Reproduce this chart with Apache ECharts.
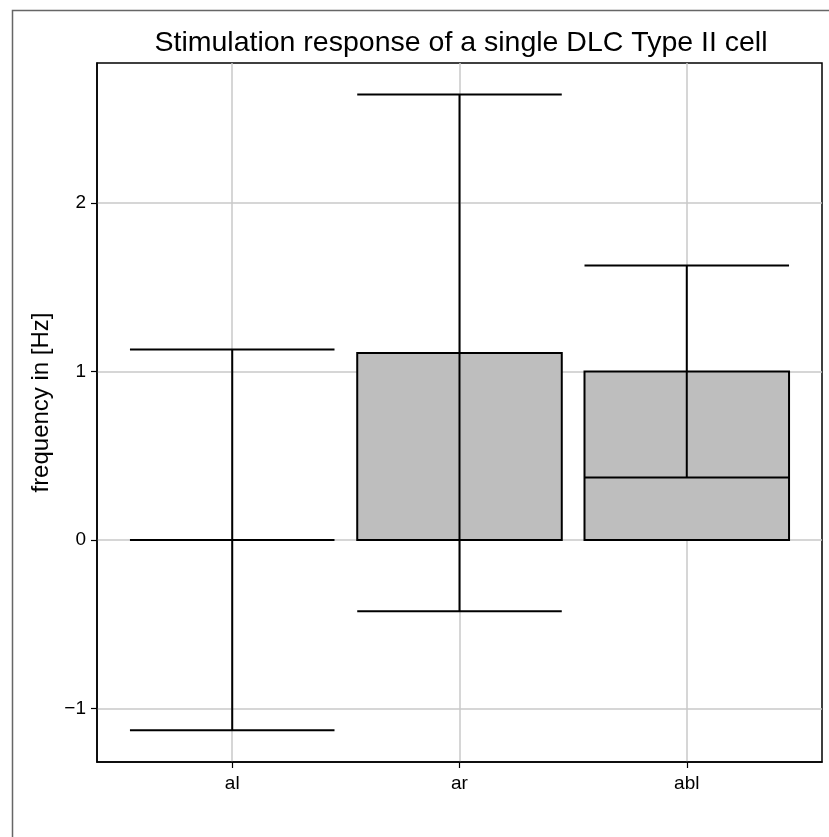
<!DOCTYPE html>
<html>
<head>
<meta charset="utf-8">
<script src="https://cdn.jsdelivr.net/npm/echarts@6/dist/echarts.min.js"></script>
<style>
html,body{margin:0;padding:0;background:#fff;}
#chart{width:829px;height:837px;}
</style>
</head>
<body>
<div id="chart"></div>
<script>
// ---- data ----
const categories = ['al', 'ar', 'abl'];
const means = [0, 1.11, 1.0];
const errLow = [-1.13, -0.424, 0.37];
const errHigh = [1.13, 2.645, 1.63];
const yTicks = [-1, 0, 1, 2];
const xTicks = [0, 1, 2];

const BAR_W = 0.9;
const font = 'Liberation Sans, Arial, Helvetica, sans-serif';

const barData = categories.map((c, i) => [i, means[i]]);
const errData = categories.map((c, i) => [i, errLow[i], errHigh[i]]);

const chart = echarts.init(document.getElementById('chart'), null, {renderer: 'canvas'});
const option = {
  backgroundColor: '#fff',
  animation: false,
  title: {
    text: 'Stimulation response of a single DLC Type II cell',
    left: 456, top: 24, textAlign: 'center',
    textStyle: {fontFamily: font, fontSize: 28.5, fontWeight: 'normal', color: '#000'}
  },
  graphic: [{
    type: 'rect', left: 10, top: 8, silent: true,
    shape: {width: 900, height: 900},
    style: {fill: 'none', stroke: '#666', lineWidth: 1.5}
  }],
  grid: {left: 97, right: 7, top: 63, bottom: 75, show: true, borderColor: '#000', borderWidth: 1.5, backgroundColor: 'transparent', containLabel: false},
  xAxis: {
    type: 'value', min: -0.595, max: 2.595,
    axisLine: {show: true, onZero: false, lineStyle: {color: '#000', width: 1.5}},
    axisTick: {show: true, customValues: xTicks, length: 6, lineStyle: {color: '#000', width: 1.2}},
    axisLabel: {customValues: xTicks, formatter: v => categories[Math.round(v)] || '', fontFamily: font, fontSize: 19, color: '#000', margin: 12},
    splitLine: {show: true, lineStyle: {color: '#c8c8c8', width: 1.5}}
  },
  yAxis: {
    type: 'value', min: -1.319, max: 2.832,
    name: 'frequency in [Hz]', nameLocation: 'middle', nameGap: 40, nameRotate: 90,
    nameTextStyle: {fontFamily: font, fontSize: 24, color: '#000', padding: [0, 0, 0, 20]},
    axisLine: {show: true, onZero: false, lineStyle: {color: '#000', width: 1.5}},
    axisTick: {show: true, customValues: yTicks, length: 6, lineStyle: {color: '#000', width: 1.2}},
    axisLabel: {customValues: yTicks, formatter: v => v < 0 ? '\u2212' + Math.abs(v) : String(v), fontFamily: font, fontSize: 19, color: '#000', margin: 11},
    splitLine: {show: true, lineStyle: {color: '#c8c8c8', width: 1.5}}
  },
  series: [
    {
      type: 'custom', name: 'bars', data: barData, encode: {x: 0, y: 1}, z: 2,
      renderItem: (params, api) => {
        const x = api.value(0), v = api.value(1);
        const a = api.coord([x - BAR_W / 2, v]);
        const b = api.coord([x + BAR_W / 2, 0]);
        return {
          type: 'rect',
          shape: {x: a[0], y: Math.min(a[1], b[1]), width: b[0] - a[0], height: Math.abs(b[1] - a[1])},
          style: {fill: '#bebebe', stroke: '#000', lineWidth: 2}
        };
      }
    },
    {
      type: 'custom', name: 'err', data: errData, encode: {x: 0, y: [1, 2]}, z: 3,
      renderItem: (params, api) => {
        const x = api.value(0), lo = api.value(1), hi = api.value(2);
        const pl = api.coord([x, lo]), ph = api.coord([x, hi]);
        const l1 = api.coord([x - BAR_W / 2, lo]), r1 = api.coord([x + BAR_W / 2, lo]);
        const l2 = api.coord([x - BAR_W / 2, hi]), r2 = api.coord([x + BAR_W / 2, hi]);
        const st = {stroke: '#000', lineWidth: 2};
        return {
          type: 'group',
          children: [
            {type: 'line', shape: {x1: pl[0], y1: pl[1], x2: ph[0], y2: ph[1]}, style: st},
            {type: 'line', shape: {x1: l1[0], y1: l1[1], x2: r1[0], y2: r1[1]}, style: st},
            {type: 'line', shape: {x1: l2[0], y1: l2[1], x2: r2[0], y2: r2[1]}, style: st}
          ]
        };
      }
    }
  ]
};
chart.setOption(option);
</script>
</body>
</html>
